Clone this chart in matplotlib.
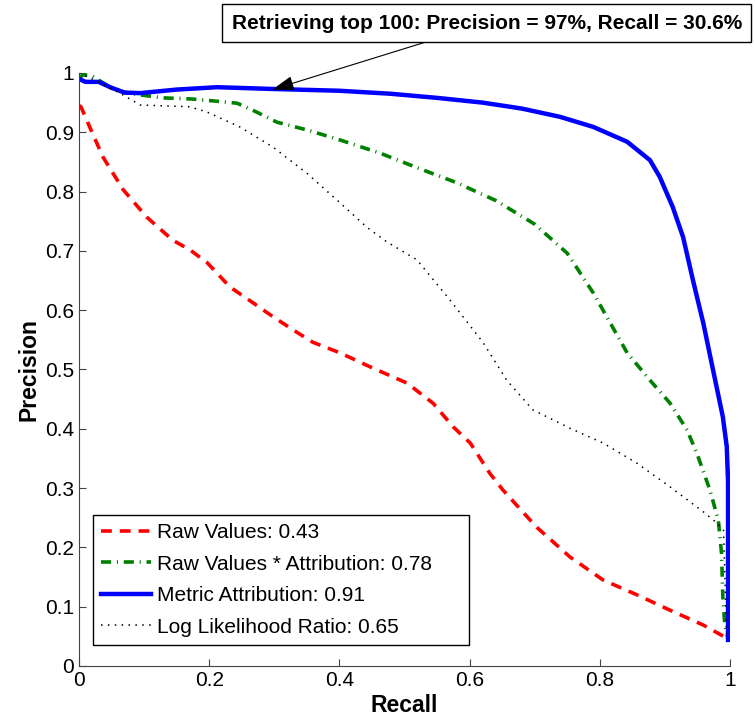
import matplotlib
matplotlib.use('Agg')
from matplotlib import pyplot as plt

plt.rcParams['font.family'] = ['Liberation Sans', 'DejaVu Sans']

# Raw Values
raw_x = [0, 0.003, 0.02, 0.037, 0.068, 0.104, 0.144, 0.17, 0.197, 0.232, 0.26, 0.298, 0.33, 0.359,
         0.401, 0.452, 0.504, 0.544, 0.575, 0.601, 0.631, 0.651, 0.703, 0.754, 0.805, 0.857, 0.908,
         0.959, 0.995, 1.0]
raw_y = [0.945, 0.943, 0.9, 0.858, 0.803, 0.757, 0.718, 0.702, 0.68, 0.639, 0.618, 0.589, 0.566, 0.546,
         0.528, 0.502, 0.477, 0.443, 0.403, 0.376, 0.325, 0.297, 0.234, 0.184, 0.145, 0.12, 0.094,
         0.069, 0.047, 0.045]

# Raw Values * Attribution
rva_x = [0, 0.006, 0.02, 0.048, 0.07, 0.094, 0.13, 0.175, 0.215, 0.243, 0.273, 0.304, 0.35, 0.401,
         0.462, 0.52, 0.58, 0.64, 0.7, 0.75, 0.79, 0.842, 0.877, 0.908, 0.934, 0.949, 0.969, 0.982,
         0.987, 0.989, 0.992, 0.997]
rva_y = [0.99, 0.997, 0.995, 0.976, 0.967, 0.963, 0.958, 0.956, 0.952, 0.949, 0.934, 0.917, 0.904, 0.887,
         0.865, 0.84, 0.815, 0.785, 0.745, 0.696, 0.629, 0.528, 0.482, 0.443, 0.398, 0.359, 0.297, 0.246,
         0.19, 0.116, 0.07, 0.045]

# Metric Attribution
met_x = [0, 0.01, 0.03, 0.05, 0.07, 0.094, 0.15, 0.212, 0.298, 0.4, 0.478, 0.55, 0.62, 0.68, 0.739,
         0.79, 0.842, 0.877, 0.892, 0.912, 0.928, 0.943, 0.959, 0.974, 0.989, 0.995, 0.997, 0.997]
met_y = [0.99, 0.985, 0.985, 0.975, 0.967, 0.966, 0.972, 0.976, 0.973, 0.97, 0.965, 0.958, 0.95, 0.94, 0.926,
         0.909, 0.884, 0.853, 0.825, 0.774, 0.723, 0.651, 0.578, 0.499, 0.42, 0.37, 0.31, 0.044]

# Log Likelihood Ratio
llr_x = [0, 0.02, 0.063, 0.094, 0.17, 0.197, 0.247, 0.298, 0.35, 0.401, 0.442, 0.473, 0.519, 0.57,
         0.621, 0.657, 0.697, 0.754, 0.805, 0.857, 0.908, 0.959, 0.98, 0.99, 0.995]
llr_y = [1.0, 0.99, 0.966, 0.946, 0.943, 0.934, 0.909, 0.875, 0.831, 0.781, 0.74, 0.715, 0.685, 0.617,
         0.545, 0.482, 0.432, 0.401, 0.376, 0.342, 0.302, 0.26, 0.241, 0.23, 0.045]

labels = ['Raw Values: 0.43', 'Raw Values * Attribution: 0.78',
          'Metric Attribution: 0.91', 'Log Likelihood Ratio: 0.65']

fig = plt.figure(figsize=(7.55, 7.21), dpi=100)
ax = fig.add_axes([0.1046, 0.0763, 0.8623, 0.8225])

ax.plot(raw_x, raw_y, color='#ff0000', linestyle=(0, (3, 2.2)), linewidth=2.6, label=labels[0])
ax.plot(rva_x, rva_y, color='#008000', linestyle=(0, (2.8, 1.6, 0.3, 1.6)), linewidth=2.6, label=labels[1])
ax.plot(met_x, met_y, color='#0000ff', linestyle='-', linewidth=3.2, label=labels[2])
ax.plot(llr_x, llr_y, color='black', linestyle=(0, (1, 3.5)), linewidth=1.1, label=labels[3])

ax.set_xlim(0, 1)
ax.set_ylim(0, 1)
ax.set_xticks([0, 0.2, 0.4, 0.6, 0.8, 1])
ax.set_xticklabels(['0', '0.2', '0.4', '0.6', '0.8', '1'])
ax.set_yticks([i / 10 for i in range(11)])
ax.set_yticklabels(['0'] + ['0.%d' % i for i in range(1, 10)] + ['1'])
ax.tick_params(direction='in', labelsize=15, length=5, color='#444444')
ax.spines['top'].set_visible(False)
ax.spines['right'].set_visible(False)
ax.spines['left'].set_color('#444444')
ax.spines['bottom'].set_color('#444444')

ax.set_xlabel('Recall', fontsize=16.5, fontweight='bold', labelpad=3)
ax.set_ylabel('Precision', fontsize=16.5, fontweight='bold', labelpad=3)

# MATLAB legends leave a wide right margin; trailing spaces mimic it
leg = ax.legend([l + '     ' for l in labels], loc='lower left', bbox_to_anchor=(0.0215, 0.0354),
                fontsize=15, fancybox=False, edgecolor='black', framealpha=1, handlelength=2.4,
                handletextpad=0.25, borderaxespad=0, labelspacing=0.6, borderpad=0.4)
leg.get_frame().set_linewidth(1)

ax.annotate('Retrieving top 100: Precision = 97%, Recall = 30.6%',
            xy=(0.297, 0.972), xycoords='data',
            xytext=(0.645, 0.968), textcoords='figure fraction',
            ha='center', va='center', fontsize=15, fontweight='bold',
            bbox=dict(boxstyle='square,pad=0.45', fc='white', ec='black', lw=1),
            arrowprops=dict(arrowstyle='-|>,head_length=0.9,head_width=0.3', color='black', lw=0.8,
                            shrinkA=0, shrinkB=0),
            annotation_clip=False)

fig.savefig('out.png', dpi=100)
